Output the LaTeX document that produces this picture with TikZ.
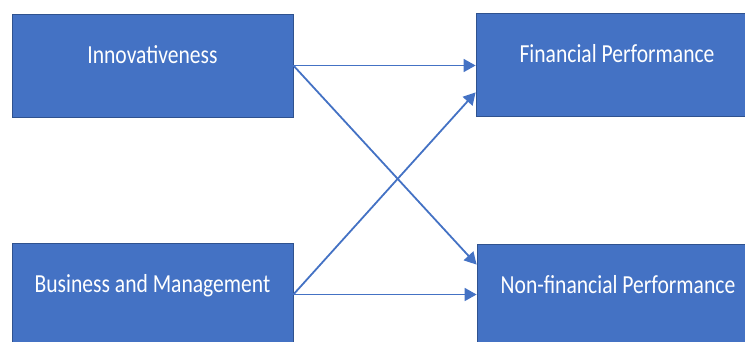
\documentclass[tikz,border=0pt]{standalone}
\usepackage{fontspec}
\setmainfont{Carlito}
\usetikzlibrary{calc,arrows.meta}
\definecolor{boxblue}{HTML}{4472C4}
\definecolor{boxedge}{HTML}{2F528F}
\tikzset{
  box/.style={draw=boxedge, line width=0.8pt, fill=boxblue, text=white,
    minimum height=103pt, inner sep=0pt, text height=16.4pt, text depth=0pt,
    font=\fontsize{26}{30}\selectfont},
  conn/.style={draw=boxblue, line width=1.8pt, -{Triangle[length=12pt,width=13pt]}},
}
\newcommand{\boxtext}[1]{\raisebox{10.5pt}{\scalebox{0.83}[1]{#1}}}
\begin{document}
\begin{tikzpicture}[x=1pt,y=1pt]
\useasboundingbox (0,0) rectangle (745,341);
\node[box, minimum width=281pt] (inn) at (152.5,275.5) {\boxtext{Innovativeness}};
\node[box, minimum width=282pt] (fin) at (617,276.5) {\boxtext{Financial Performance}};
\node[box, minimum width=281pt] (bus) at (152.5,46.5) {\boxtext{Business and Management}};
\node[box, minimum width=282pt] (non) at (618,45.5) {\boxtext{Non-financial Performance}};
\draw[conn] (inn.east) -- (inn.east -| fin.west);
\draw[conn] (inn.east) -- ($(non.north west)+(0,-21)$);
\draw[conn] (bus.east) -- ($(fin.south west)+(0,24)$);
\draw[conn] (bus.east) -- (bus.east -| non.west);
\end{tikzpicture}
\end{document}
